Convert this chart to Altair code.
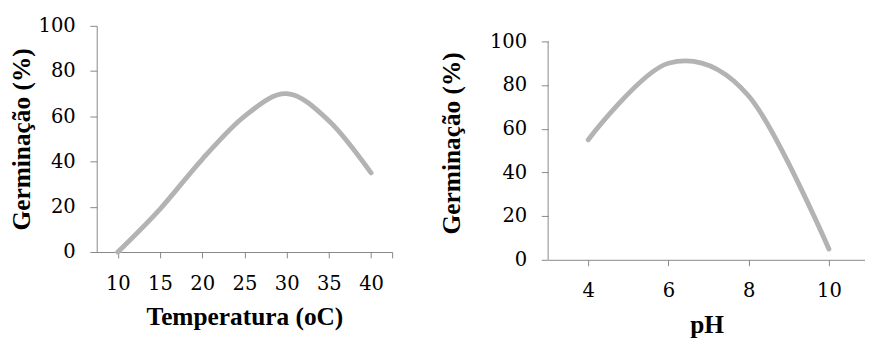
import altair as alt
import pandas as pd

# Left panel: germination vs temperature
temperatura = [10, 15, 20, 25, 30, 35, 40]
germ_temp = [0, 19, 41, 60, 70, 58, 35]

# Right panel: germination vs pH
ph = [4, 6, 8, 10]
germ_ph = [55, 90, 75, 5]

# Axis extents (used for the right panel's vertical axis line)
ph_axis_x = [3]
germ_axis_min = [0]
germ_axis_max = [100]

df_t = pd.DataFrame({"Temperatura": temperatura, "Germinacao": germ_temp})
df_p = pd.DataFrame({"pH": ph, "Germinacao": germ_ph})
df_axis = pd.DataFrame({"pH": ph_axis_x, "lo": germ_axis_min, "hi": germ_axis_max})

LINE = "#b3b3b3"
AXIS = "#868686"
LABEL_FONT = "DejaVu Serif"
TITLE_FONT = "Liberation Serif"


def y_axis(title_pad, domain=True):
    return alt.Axis(
        values=[0, 20, 40, 60, 80, 100],
        title="Germinação (%)",
        titlePadding=title_pad,
        grid=False,
        domain=domain,
        tickSize=7,
        labelPadding=15,
        labelFlush=False,
        labelOverlap=False,
    )


def x_axis(title, values, expr=None, title_pad=11):
    kw = dict(
        values=values,
        title=title,
        titlePadding=title_pad,
        grid=False,
        tickSize=6,
        labelPadding=16,
        labelFlush=False,
        labelOverlap=False,
    )
    if expr:
        kw["labelExpr"] = expr
    return alt.Axis(**kw)


left = (
    alt.Chart(df_t)
    .mark_line(interpolate="cardinal", tension=0, color=LINE, strokeWidth=5, strokeCap="round")
    .encode(
        x=alt.X(
            "Temperatura:Q",
            scale=alt.Scale(domain=[7.5, 42.5], nice=False, zero=False),
            axis=x_axis("Temperatura (oC)", [10, 15, 20, 25, 30, 35, 40, 42.5],
                        "datum.value > 41 ? '' : datum.label"),
        ),
        y=alt.Y(
            "Germinacao:Q",
            scale=alt.Scale(domain=[0, 100], nice=False),
            axis=y_axis(4),
        ),
    )
    .properties(width=303, height=232)
)

ph_x = alt.X(
    "pH:Q",
    scale=alt.Scale(domain=[3, 10.9], nice=False, zero=False),
    axis=x_axis("pH", [4, 6, 8, 10], title_pad=12),
)
ph_y_scale = alt.Scale(domain=[0, 100 * 240 / 224], nice=False)

right_line = (
    alt.Chart(df_p)
    .mark_line(interpolate="cardinal", tension=0, color=LINE, strokeWidth=5, strokeCap="round")
    .encode(
        x=ph_x,
        y=alt.Y("Germinacao:Q", scale=ph_y_scale, axis=y_axis(26, domain=False)),
    )
)

right_axis_line = (
    alt.Chart(df_axis)
    .mark_rule(color=AXIS, strokeWidth=1)
    .encode(
        x=alt.X("pH:Q"),
        y=alt.Y("lo:Q"),
        y2="hi:Q",
    )
)

right = alt.layer(right_line, right_axis_line).properties(width=325, height=240)

chart = (
    alt.hconcat(left, right, spacing=46)
    .properties(padding={"left": 0, "top": 4, "right": 0, "bottom": 0})
    .configure_view(stroke=None)
    .configure_axis(
        domainColor=AXIS,
        tickColor=AXIS,
        domainWidth=1,
        tickWidth=1,
        labelFont=LABEL_FONT,
        labelFontSize=20,
        labelColor="black",
        titleFont=TITLE_FONT,
        titleFontSize=26,
        titleFontWeight="bold",
        titleColor="black",
    )
)

chart.save("out.html", embed_options={"renderer": "svg", "actions": False})
